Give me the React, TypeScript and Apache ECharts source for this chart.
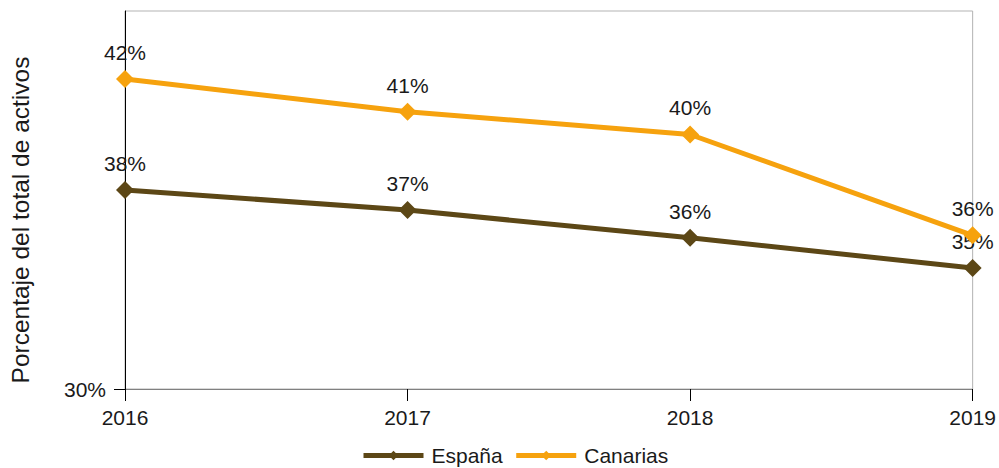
import React, { useEffect, useRef } from "react";
import * as echarts from "echarts";

const years = ["2016", "2017", "2018", "2019"];
const espana = [37.9, 37.1, 36.0, 34.8];
const canarias = [42.3, 41.0, 40.1, 36.1];
const yTickValues = [30];

const FONT = "Liberation Sans, Arial, sans-serif";

export default function App() {
  const ref = useRef<HTMLDivElement>(null);
  useEffect(() => {
    if (!ref.current) return;
    const chart = echarts.init(ref.current, undefined, { renderer: "svg" });
    const labelCfg = {
      show: true,
      position: "top" as const,
      distance: 7,
      fontSize: 21,
      fontFamily: FONT,
      color: "#1a1a1a",
      formatter: (p: any) => Math.round(p.value) + "%",
    };
    chart.setOption({
      animation: false,
      textStyle: { fontFamily: FONT },
      grid: {
        left: 125,
        right: 24,
        top: 11,
        bottom: 79,
        show: true,
        borderColor: "#b3b3b3",
        borderWidth: 1,
      },
      xAxis: {
        type: "category",
        data: years,
        boundaryGap: false,
        axisLine: { lineStyle: { color: "#808080", width: 1 } },
        axisTick: { length: 12, lineStyle: { color: "#000" } },
        axisLabel: { fontSize: 21, color: "#1a1a1a", margin: 18, fontFamily: FONT },
      },
      yAxis: {
        type: "value",
        min: 30,
        max: 45,
        interval: 15,
        splitLine: { show: false },
        axisLine: { show: true, lineStyle: { color: "#000", width: 1 } },
        axisTick: { show: true, length: 11, customValues: yTickValues, lineStyle: { color: "#000" } },
        axisLabel: {
          fontSize: 21,
          color: "#1a1a1a",
          margin: 19,
          fontFamily: FONT,
          customValues: yTickValues,
          formatter: (v: number) => v + "%",
        },
      },
      legend: {
        top: 445,
        left: 361,
        padding: 0,
        itemWidth: 60,
        itemHeight: 12,
        itemGap: 11,
        lineStyle: { width: 5 },
        textStyle: { fontSize: 21, color: "#1a1a1a", fontFamily: FONT, padding: [0, 0, 0, 3] },
        data: ["España", "Canarias"],
      },
      graphic: [
        {
          type: "text",
          x: 20,
          y: 220,
          rotation: Math.PI / 2,
          style: {
            text: "Porcentaje del total de activos",
            fontSize: 24.5,
            fontFamily: FONT,
            fill: "#1a1a1a",
            textAlign: "center",
            textVerticalAlign: "middle",
          },
        },
      ],
      series: [
        {
          name: "España",
          type: "line",
          data: espana,
          symbol: "diamond",
          symbolSize: 18,
          color: "#5c4716",
          lineStyle: { width: 5, color: "#5c4716" },
          itemStyle: { color: "#5c4716" },
          label: labelCfg,
          z: 3,
        },
        {
          name: "Canarias",
          type: "line",
          data: canarias,
          symbol: "diamond",
          symbolSize: 18,
          color: "#f6a20e",
          lineStyle: { width: 5, color: "#f6a20e" },
          itemStyle: { color: "#f6a20e" },
          label: labelCfg,
          z: 4,
        },
      ],
    });
    return () => chart.dispose();
  }, []);
  return <div ref={ref} style={{ width: 999, height: 468, position: "absolute", left: 0, top: 0 }} />;
}
